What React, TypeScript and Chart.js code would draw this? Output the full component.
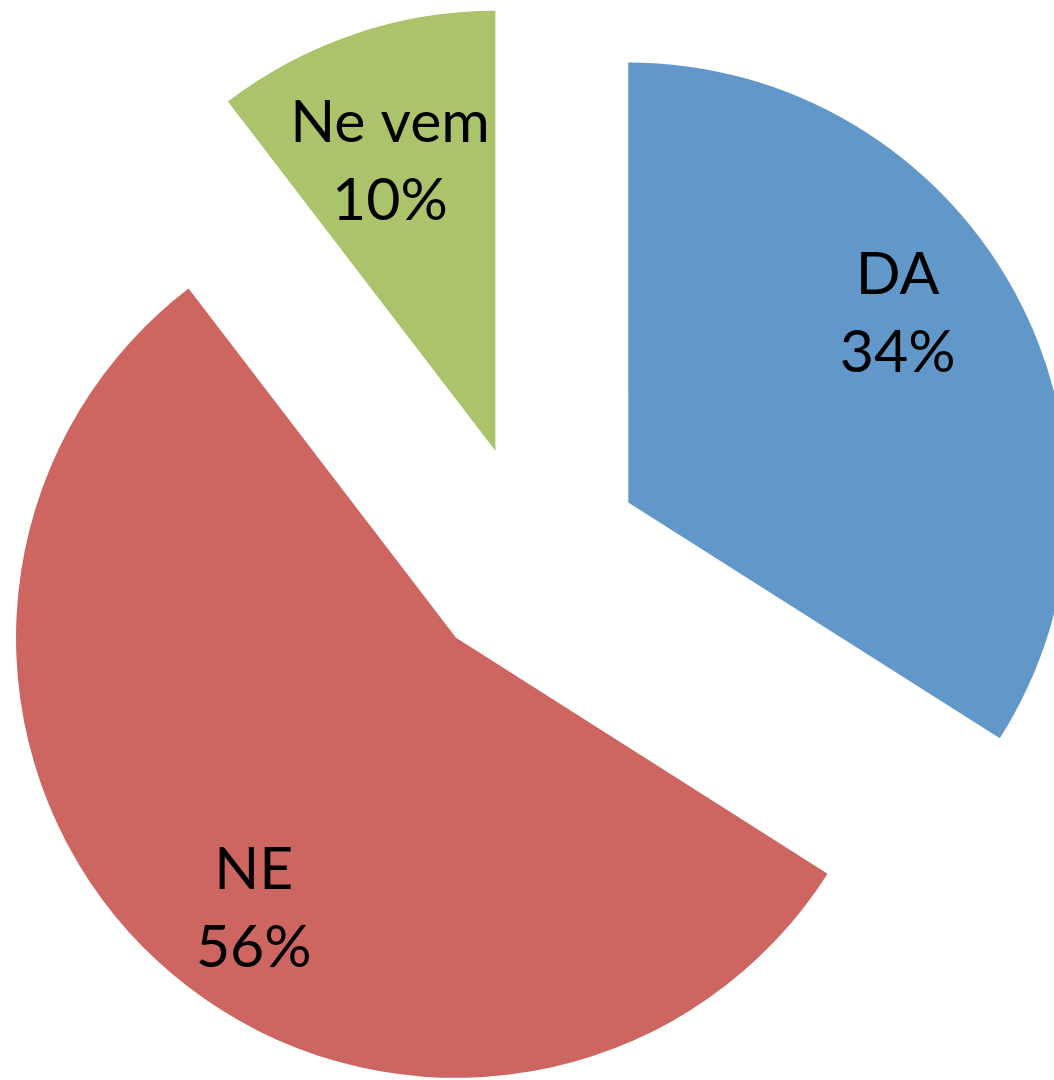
import React, { useEffect, useRef } from "react";
import { Chart, registerables } from "chart.js";

Chart.register(...registerables);

const categories = ["DA", "NE", "Ne vem"];
const values = [34.0, 55.6, 10.4];

const colors = ["#6197C9", "#CD6660", "#ABC46C"];
const EXPLODE = 111;
const LABEL_DIST = [0.75, 0.766, 0.703];
const LABEL_SHIFT_DEG = [-6.5, -5.6, -1.2];

const explodePlugin = {
  id: "explodeSlices",
  afterDatasetsUpdate(chart: any) {
    const meta = chart.getDatasetMeta(0);
    meta.data.forEach((el: any) => {
      const a = (el.startAngle + el.endAngle) / 2;
      el.x += Math.cos(a) * EXPLODE;
      el.y += Math.sin(a) * EXPLODE;
    });
  },
};

const labelPlugin = {
  id: "sliceLabels",
  afterDatasetsDraw(chart: any) {
    const ctx = chart.ctx;
    const meta = chart.getDatasetMeta(0);
    const data = chart.data.datasets[0].data as number[];
    const total = data.reduce((s, v) => s + v, 0);
    ctx.save();
    ctx.fillStyle = "#000000";
    ctx.font = "59px Lato";
    ctx.textAlign = "center";
    ctx.textBaseline = "alphabetic";
    meta.data.forEach((el: any, i: number) => {
      const a = (el.startAngle + el.endAngle) / 2 + (LABEL_SHIFT_DEG[i] * Math.PI) / 180;
      const r = el.outerRadius * LABEL_DIST[i];
      const cx = el.x + Math.cos(a) * r;
      const cy = el.y + Math.sin(a) * r;
      const half = 39;
      const capHalf = 21;
      const pct = Math.round((data[i] / total) * 100) + "%";
      ctx.fillText(String(chart.data.labels[i]), cx, cy - half + capHalf);
      ctx.fillText(pct, cx, cy + half + capHalf);
    });
    ctx.restore();
  },
};

export default function App() {
  const ref = useRef<HTMLCanvasElement | null>(null);

  useEffect(() => {
    if (!ref.current) return;
    const chart = new Chart(ref.current, {
      type: "pie",
      data: {
        labels: categories,
        datasets: [
          {
            data: values,
            backgroundColor: colors,
            borderWidth: 0,
            clip: false as any,
          } as any,
        ],
      },
      options: {
        responsive: false,
        animation: false,
        radius: 440,
        layout: { padding: { left: 8, top: 32, right: 0, bottom: 0 } },
        plugins: {
          legend: { display: false },
          tooltip: { enabled: false },
        },
        events: [],
      } as any,
      plugins: [explodePlugin, labelPlugin],
    });
    return () => chart.destroy();
  }, []);

  return (
    <div style={{ position: "fixed", left: 0, top: 0, width: 1054, height: 1080, background: "#ffffff" }}>
      <canvas ref={ref} width={1054} height={1080} style={{ width: 1054, height: 1080 }} />
    </div>
  );
}
